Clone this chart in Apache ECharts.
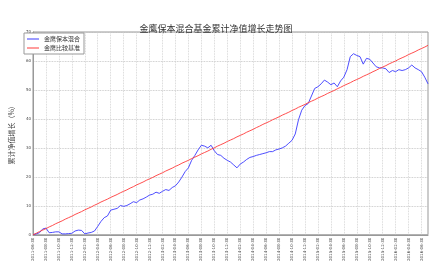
<!DOCTYPE html>
<html lang="zh-CN">
<head>
  <meta charset="UTF-8">
  <title>金鹰保本混合</title>
  <script src="https://cdn.jsdelivr.net/npm/echarts@6/dist/echarts.min.js"></script>
  <style>
    * { padding: 0; margin: 0; }
    body { background: #fff; }
    #box { width: 432px; height: 264px; }
  </style>
</head>
<body>
  <div id="box"></div>
  <script>
    // 半月一个点，每 4 个点标一个日期
    var dates = []
    var y0 = 2011, m0 = 6
    for (let i = 0; i < 123; i++) {
      let m = m0 + Math.floor(i / 2)
      let y = y0 + Math.floor((m - 1) / 12)
      let mm = ((m - 1) % 12) + 1
      let d = i % 2 === 0 ? '30' : '15'
      if (i % 2 === 1) { mm = mm + 1; if (mm > 12) { mm = 1; y++ } }
      dates.push(y + '-' + (mm < 10 ? '0' + mm : mm) + '-' + d)
    }

    var fundName = '金鹰保本混合'
    var benchName = '金鹰比较基准'

    var fund = [0, 0.3, 0.7, 2.0, 2.3, 0.7, 0.8, 1.0, 1.0, 0.3,
      0.3, 0.4, 0.5, 1.3, 1.6, 1.5, 0.3, 0.6, 0.8, 1.3,
      2.9, 4.6, 5.9, 6.5, 8.5, 8.8, 9.1, 10.1, 9.8, 10.1,
      10.7, 11.4, 11.1, 12.0, 12.4, 13.0, 13.7, 14.0, 14.7, 14.3,
      15.0, 15.6, 15.3, 16.3, 16.9, 18.2, 19.9, 21.8, 23.1, 25.7,
      27.4, 29.3, 30.9, 30.6, 30.0, 30.9, 29.0, 27.7, 27.4, 26.4,
      25.7, 25.1, 24.1, 23.1, 24.4, 25.1, 26.0, 26.7, 27.0, 27.4,
      27.7, 28.0, 28.3, 28.7, 28.7, 29.3, 29.6, 30.0, 30.6, 31.6,
      32.6, 34.8, 39.7, 43.0, 44.6, 45.3, 47.9, 50.5, 51.1, 52.1,
      53.4, 52.7, 51.8, 52.4, 51.1, 53.1, 54.4, 57.0, 61.5, 62.5,
      61.9, 61.5, 58.9, 60.9, 60.6, 59.3, 58.0, 57.6, 57.6, 57.3,
      56.0, 56.7, 56.3, 57.0, 56.7, 57.0, 57.6, 58.6, 57.6, 57.0,
      56.3, 54.4, 52.1]

    var bench = [0, 0.5, 1.1, 1.6, 2.1, 2.7, 3.2, 3.8, 4.3, 4.8,
      5.4, 5.9, 6.4, 7.0, 7.5, 8.0, 8.6, 9.1, 9.6, 10.2,
      10.7, 11.3, 11.8, 12.3, 12.9, 13.4, 13.9, 14.5, 15.0, 15.5,
      16.1, 16.6, 17.2, 17.7, 18.2, 18.8, 19.3, 19.8, 20.4, 20.9,
      21.4, 22.0, 22.5, 23.0, 23.6, 24.1, 24.7, 25.2, 25.7, 26.3,
      26.8, 27.3, 27.9, 28.4, 28.9, 29.5, 30.0, 30.6, 31.1, 31.6,
      32.2, 32.7, 33.2, 33.8, 34.3, 34.8, 35.4, 35.9, 36.4, 37.0,
      37.5, 38.1, 38.6, 39.1, 39.7, 40.2, 40.7, 41.3, 41.8, 42.3,
      42.9, 43.4, 44.0, 44.5, 45.0, 45.6, 46.1, 46.6, 47.2, 47.7,
      48.2, 48.8, 49.3, 49.8, 50.4, 50.9, 51.5, 52.0, 52.5, 53.1,
      53.6, 54.1, 54.7, 55.2, 55.7, 56.3, 56.8, 57.4, 57.9, 58.4,
      59.0, 59.5, 60.0, 60.6, 61.1, 61.6, 62.2, 62.7, 63.2, 63.8,
      64.3, 64.8, 65.4]

    var mCharts = echarts.init(document.getElementById('box'))
    var font = 'Noto Sans CJK SC'
    var option = {
      animation: false,
      backgroundColor: '#fff',
      title: {
        text: '金鹰保本混合基金累计净值增长走势图',
        left: 'center',
        top: 19,
        textStyle: { fontSize: 9, fontWeight: 'normal', color: '#333', fontFamily: font }
      },
      legend: {
        orient: 'vertical',
        left: 24,
        top: 33,
        padding: [3, 4, 3, 3],
        itemGap: 3,
        itemWidth: 12,
        itemHeight: 1,
        icon: 'rect',
        borderColor: '#999',
        borderWidth: 1,
        backgroundColor: '#fff',
        textStyle: { fontSize: 6, color: '#333', fontFamily: font },
        data: [fundName, benchName]
      },
      grid: {
        left: 22, right: 4, top: 32, bottom: 17,
        show: true, borderColor: '#999', borderWidth: 1
      },
      xAxis: {
        type: 'category',
        data: dates,
        boundaryGap: false,
        axisLine: { lineStyle: { color: '#999' } },
        axisTick: { show: false },
        axisLabel: {
          interval: 3, rotate: 90, fontSize: 4, color: '#444', margin: 3, fontFamily: 'DejaVu Sans'
        },
        splitLine: { show: true, interval: 3, lineStyle: { color: '#ccc', type: 'dotted', width: 0.8 } }
      },
      yAxis: {
        type: 'value',
        min: 0, max: 70, interval: 10,
        name: '累计净值增长（%）',
        nameLocation: 'middle',
        nameGap: 13,
        nameTextStyle: { fontSize: 7, color: '#444', fontFamily: font },
        axisLine: { show: true, lineStyle: { color: '#999' } },
        axisTick: { show: false },
        axisLabel: { fontSize: 4, color: '#444', margin: 2, fontFamily: 'DejaVu Sans' },
        splitLine: { lineStyle: { color: '#bbb', type: 'dotted', width: 0.8 } }
      },
      series: [{
        name: fundName,
        type: 'line',
        data: fund,
        showSymbol: false,
        lineStyle: { color: '#3a3aff', width: 0.9 },
        itemStyle: { color: '#3a3aff' }
      }, {
        name: benchName,
        type: 'line',
        data: bench,
        showSymbol: false,
        lineStyle: { color: '#ff3a3a', width: 0.9 },
        itemStyle: { color: '#ff3a3a' }
      }]
    }
    mCharts.setOption(option)
  </script>
</body>
</html>
